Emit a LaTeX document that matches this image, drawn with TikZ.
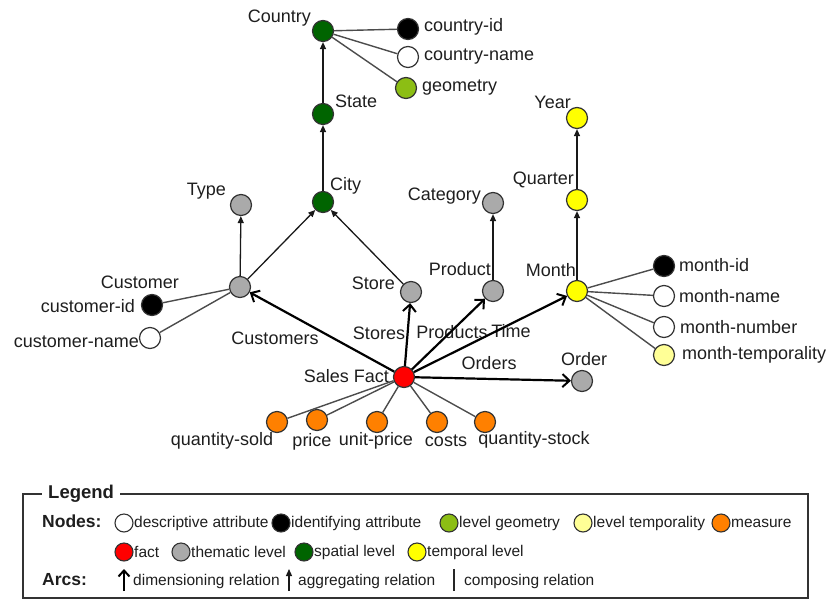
\documentclass[tikz,border=0pt]{standalone}
\usepackage{fontspec}
\setmainfont{Liberation Sans}
\usetikzlibrary{arrows.meta}
\definecolor{dgreen}{RGB}{0,100,0}
\definecolor{ggreen}{RGB}{140,190,20}
\definecolor{yel}{RGB}{255,255,0}
\definecolor{lyel}{RGB}{255,255,150}
\definecolor{gry}{RGB}{170,170,170}
\definecolor{org}{RGB}{255,128,0}
\definecolor{txt}{RGB}{30,30,30}
\begin{document}
\begin{tikzpicture}[x=1pt,y=-1pt,
  nd/.style={circle,draw=black!80,line width=1.2pt,minimum size=21pt,inner sep=0pt},
  sm/.style={circle,draw=black!80,line width=1.1pt,minimum size=18pt,inner sep=0pt},
  lab/.style={inner sep=0pt,font=\fontsize{18}{20}\selectfont,text=txt},
  leg/.style={inner sep=0pt,font=\fontsize{15.5}{17}\selectfont,text=txt},
  legb/.style={inner sep=0pt,font=\bfseries\fontsize{17.5}{19}\selectfont,text=txt},
  agg/.style={line width=1.3pt,draw=black!90,-{Triangle[length=7pt,width=6pt]}},
  dimr/.style={line width=2.2pt,draw=black,-{Straight Barb[length=7pt,width=13pt,line width=2pt]}},
  comp/.style={line width=1.4pt,draw=black!70},
]
\useasboundingbox (0,0) rectangle (827,600);

% ---- nodes ----
\node[nd,fill=dgreen] (country) at (323,31) {};
\node[nd,fill=black] (cid) at (408,29) {};
\node[nd,fill=white] (cname) at (408,57) {};
\node[nd,fill=ggreen] (geom) at (406,88) {};
\node[nd,fill=dgreen] (state) at (323,114) {};
\node[nd,fill=dgreen] (city) at (323,202) {};
\node[nd,fill=gry] (type) at (241,205) {};
\node[nd,fill=gry] (customer) at (240,287) {};
\node[nd,fill=black] (custid) at (152,305) {};
\node[nd,fill=white] (custname) at (150,338) {};
\node[nd,fill=gry] (category) at (493,203) {};
\node[nd,fill=gry] (store) at (411,292) {};
\node[nd,fill=gry] (product) at (493,291) {};
\node[nd,fill=yel] (month) at (577,291) {};
\node[nd,fill=yel] (quarter) at (577,200) {};
\node[nd,fill=yel] (year) at (577,118) {};
\node[nd,fill=black] (mid) at (664,266) {};
\node[nd,fill=white] (mname) at (664,296) {};
\node[nd,fill=white] (mnum) at (664,327) {};
\node[nd,fill=lyel] (mtemp) at (664,355) {};
\node[nd,fill=red] (fact) at (404,377) {};
\node[nd,fill=gry] (order) at (582,381) {};
\node[nd,fill=org] (qsold) at (277,422) {};
\node[nd,fill=org] (price) at (317,420) {};
\node[nd,fill=org] (uprice) at (377,422) {};
\node[nd,fill=org] (costs) at (437,422) {};
\node[nd,fill=org] (qstock) at (485,422) {};

% ---- labels ----
\node[lab,anchor=east] (lcountry) at (311,18) {Country};
\node[lab,anchor=west] (lcid) at (424,27) {country-id};
\node[lab,anchor=west] (lcname) at (424,57) {country-name};
\node[lab,anchor=west] (lgeom) at (422,88) {geometry};
\node[lab,anchor=west] (lstate) at (335,101) {State};
\node[lab,anchor=west] (lcity) at (330,186) {City};
\node[lab,anchor=east] (ltype) at (226,191) {Type};
\node[lab,anchor=east] (lcustomer) at (179,282) {Customer};
\node[lab,anchor=east] (lcustid) at (135,306) {customer-id};
\node[lab,anchor=east] (lcustname) at (139,342) {customer-name};
\node[lab,anchor=east] (lcategory) at (481,196) {Category};
\node[lab,anchor=east] (lstore) at (395,283) {Store};
\node[lab,anchor=east] (lproduct) at (491,269) {Product};
\node[lab,anchor=east] (lmonth) at (576,270) {Month};
\node[lab,anchor=east] (lquarter) at (574,180) {Quarter};
\node[lab,anchor=east] (lyear) at (571,102) {Year};
\node[lab,anchor=west] (lmid) at (679,265) {month-id};
\node[lab,anchor=west] (lmname) at (679,296) {month-name};
\node[lab,anchor=west] (lmnum) at (680,327) {month-number};
\node[lab,anchor=west] (lmtemp) at (682,355) {month-temporality};
\node[lab,anchor=east] (lfact) at (389,376) {Sales Fact};
\node[lab] (lorder) at (584,359) {Order};
\node[lab] (lcustomers) at (275,338) {Customers};
\node[lab] (lstores) at (379,333) {Stores};
\node[lab] (lproducts) at (452,332) {Products};
\node[lab] (ltime) at (511,331) {Time};
\node[lab] (lorders) at (489,363) {Orders};
\node[lab] (lqsold) at (222,441) {quantity-sold};
\node[lab] (lprice) at (312,442) {price};
\node[lab] (luprice) at (376,441) {unit-price};
\node[lab] (lcosts) at (446,441) {costs};
\node[lab] (lqstock) at (534,440) {quantity-stock};

% ---- composing relations ----
\draw[comp] (country) -- (cid);
\draw[comp] (country) -- (cname);
\draw[comp] (country) -- (geom);
\draw[comp] (customer) -- (custid);
\draw[comp] (customer) -- (custname);
\draw[comp] (month) -- (mid);
\draw[comp] (month) -- (mname);
\draw[comp] (month) -- (mnum);
\draw[comp] (month) -- (mtemp);
\draw[comp] (fact) -- (qsold);
\draw[comp] (fact) -- (price);
\draw[comp] (fact) -- (uprice);
\draw[comp] (fact) -- (costs);
\draw[comp] (fact) -- (qstock);

% ---- aggregating relations ----
\draw[agg] (state) -- (country);
\draw[agg] (city) -- (state);
\draw[agg] (customer) -- (city);
\draw[agg] (customer) -- (type);
\draw[agg] (store) -- (city);
\draw[agg] (product) -- (category);
\draw[agg] (month) -- (quarter);
\draw[agg] (quarter) -- (year);

% ---- dimensioning relations ----
\draw[dimr] (fact) -- (customer);
\draw[dimr] (fact) -- (store);
\draw[dimr] (fact) -- (product);
\draw[dimr] (fact) -- (month);
\draw[dimr] (fact) -- (order);

% ---- legend ----
\draw[line width=1.3pt,draw=black!80] (23,494) rectangle (808,598);
\node[legb,anchor=west,fill=white,inner xsep=6pt,inner ysep=2pt,font=\bfseries\fontsize{18.5}{20}\selectfont] (legtitle) at (42,494) {Legend};
\node[legb,anchor=west] (lnodes) at (42,521) {Nodes:};
\node[legb,anchor=west] (larcs) at (42,580) {Arcs:};

\node[sm,fill=white] (k1) at (124,523) {};
\node[leg,anchor=west] (k1t) at (134,523) {descriptive attribute};
\node[sm,fill=black] (k2) at (281,523) {};
\node[leg,anchor=west] (k2t) at (291,523) {identifying attribute};
\node[sm,fill=ggreen] (k3) at (449,523) {};
\node[leg,anchor=west] (k3t) at (459,523) {level geometry};
\node[sm,fill=lyel] (k4) at (583,523) {};
\node[leg,anchor=west] (k4t) at (593,523) {level temporality};
\node[sm,fill=org] (k5) at (721,523) {};
\node[leg,anchor=west] (k5t) at (731,523) {measure};

\node[sm,fill=red] (k6) at (124,552) {};
\node[leg,anchor=west] (k6t) at (134,552) {fact};
\node[sm,fill=gry] (k7) at (181,552) {};
\node[leg,anchor=west] (k7t) at (191,552) {thematic level};
\node[sm,fill=dgreen] (k8) at (304,552) {};
\node[leg,anchor=west] (k8t) at (314,552) {spatial level};
\node[sm,fill=yel] (k9) at (417,552) {};
\node[leg,anchor=west] (k9t) at (427,552) {temporal level};

\coordinate (a1s) at (124,591);
\coordinate (a1e) at (124,569);
\draw[dimr,-{Straight Barb[length=6pt,width=11pt,line width=2pt]}] (a1s) -- (a1e);
\node[leg,anchor=west] (a1t) at (133,581) {dimensioning relation};
\coordinate (a2s) at (289,591);
\coordinate (a2e) at (289,569);
\draw[agg] (a2s) -- (a2e);
\node[leg,anchor=west] (a2t) at (298,581) {aggregating relation};
\coordinate (a3s) at (454,591);
\coordinate (a3e) at (454,569);
\draw[comp,draw=black!85] (a3s) -- (a3e);
\node[leg,anchor=west] (a3t) at (464,581) {composing relation};
\end{tikzpicture}
\end{document}
